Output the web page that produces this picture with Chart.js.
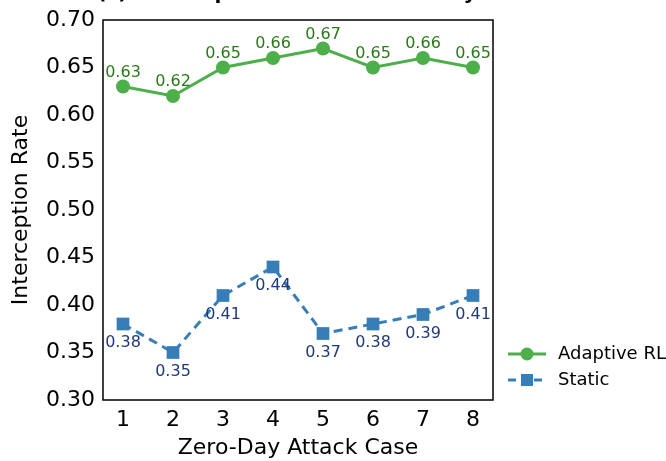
<!DOCTYPE html>
<html>
<head>
<meta charset="utf-8">
<script src="https://cdn.jsdelivr.net/npm/chart.js@4"></script>
<style>
  html, body { margin: 0; padding: 0; background: #fff; overflow: hidden; }
  #wrap { width: 666px; height: 461px; }
</style>
</head>
<body>
<div id="wrap"><canvas id="chart" width="666" height="461"></canvas></div>
<script>
const cases = [1, 2, 3, 4, 5, 6, 7, 8];
const adaptiveRL = [0.63, 0.62, 0.65, 0.66, 0.67, 0.65, 0.66, 0.65];
const staticRate = [0.38, 0.35, 0.41, 0.44, 0.37, 0.38, 0.39, 0.41];
const yTicks = [0.30, 0.35, 0.40, 0.45, 0.50, 0.55, 0.60, 0.65, 0.70];

const font = "DejaVu Sans";
const green = "#4daf4a";
const blue = "#377eb8";

const valueLabels = {
  id: "valueLabels",
  afterDatasetsDraw(chart) {
    const ctx = chart.ctx;
    ctx.save();
    ctx.font = "16px '" + font + "'";
    ctx.textAlign = "center";
    chart.data.datasets.forEach((ds, i) => {
      const meta = chart.getDatasetMeta(i);
      meta.data.forEach((pt, j) => {
        const v = ds.data[j].y.toFixed(2);
        if (i === 0) {
          ctx.fillStyle = "#2a7a1a";
          ctx.textBaseline = "alphabetic";
          ctx.fillText(v, pt.x, pt.y - 10);
        } else {
          ctx.fillStyle = "#1f3a7a";
          ctx.textBaseline = "top";
          ctx.fillText(v, pt.x, pt.y + 11);
        }
      });
    });
    ctx.restore();
  }
};

const frameAndLegend = {
  id: "frameAndLegend",
  afterDraw(chart) {
    const ctx = chart.ctx;
    const a = chart.chartArea;
    ctx.save();
    ctx.strokeStyle = "#000";
    ctx.lineWidth = 1.5;
    ctx.strokeRect(a.left, a.top, a.right - a.left, a.bottom - a.top);

    // title, mostly cut off above the window
    ctx.fillStyle = "#000";
    ctx.font = "bold 20px '" + font + "'";
    ctx.textAlign = "center";
    ctx.textBaseline = "alphabetic";
    ctx.fillText("(c) Interception Rate on Zero-Day", 287, -1);

    // legend
    ctx.font = "18px '" + font + "'";
    ctx.textAlign = "left";
    ctx.textBaseline = "middle";
    const items = [
      { label: "Adaptive RL", color: green, dash: [], shape: "circle", y: 354 },
      { label: "Static", color: blue, dash: [8, 5], shape: "rect", y: 380 }
    ];
    items.forEach(it => {
      ctx.strokeStyle = it.color;
      ctx.lineWidth = 3;
      ctx.setLineDash(it.dash);
      ctx.beginPath();
      ctx.moveTo(508, it.y);
      ctx.lineTo(546, it.y);
      ctx.stroke();
      ctx.setLineDash([]);
      ctx.fillStyle = it.color;
      if (it.shape === "circle") {
        ctx.beginPath();
        ctx.arc(527, it.y, 6.5, 0, Math.PI * 2);
        ctx.fill();
      } else {
        ctx.fillRect(521, it.y - 6, 12, 12);
      }
      ctx.fillStyle = "#000";
      ctx.fillText(it.label, 558, it.y);
    });
    ctx.restore();
  }
};

new Chart(document.getElementById("chart"), {
  type: "line",
  data: {
    datasets: [
      {
        label: "Adaptive RL",
        data: cases.map((c, i) => ({ x: c, y: adaptiveRL[i] })),
        borderColor: green,
        backgroundColor: green,
        borderWidth: 3,
        pointStyle: "circle",
        pointRadius: 7,
        pointBorderWidth: 0,
        tension: 0
      },
      {
        label: "Static",
        data: cases.map((c, i) => ({ x: c, y: staticRate[i] })),
        borderColor: blue,
        backgroundColor: blue,
        borderWidth: 3,
        borderDash: [9, 6],
        pointStyle: "rect",
        pointRadius: 9,
        pointBorderWidth: 0,
        tension: 0
      }
    ]
  },
  options: {
    responsive: false,
    animation: false,
    layout: { padding: { top: 20, right: 173, left: 0, bottom: 0 } },
    plugins: {
      legend: { display: false },
      tooltip: { enabled: false }
    },
    scales: {
      x: {
        type: "linear",
        min: 0.6,
        max: 8.4,
        afterBuildTicks: (s) => { s.ticks = cases.map(v => ({ value: v })); },
        afterFit: (s) => { s.height = 61; },
        grid: { display: false, drawTicks: true, tickLength: 6, tickColor: "#000", drawOnChartArea: false },
        border: { display: false },
        ticks: { color: "#000", font: { family: font, size: 22 }, padding: 1, maxRotation: 0 },
        title: { display: true, text: "Zero-Day Attack Case", color: "#000", font: { family: font, size: 22 }, padding: { top: 0, bottom: 0 } }
      },
      y: {
        min: 0.3,
        max: 0.7,
        afterBuildTicks: (s) => { s.ticks = yTicks.map(v => ({ value: v })); },
        afterFit: (s) => { s.width = 103; },
        grid: { display: false, drawTicks: true, tickLength: 6, tickColor: "#000", drawOnChartArea: false },
        border: { display: false },
        ticks: { color: "#000", font: { family: font, size: 22 }, padding: 2, callback: (v) => v.toFixed(2) },
        title: { display: true, text: "Interception Rate", color: "#000", font: { family: font, size: 22 }, padding: { top: 8, bottom: 4 } }
      }
    }
  },
  plugins: [valueLabels, frameAndLegend]
});
</script>
</body>
</html>
